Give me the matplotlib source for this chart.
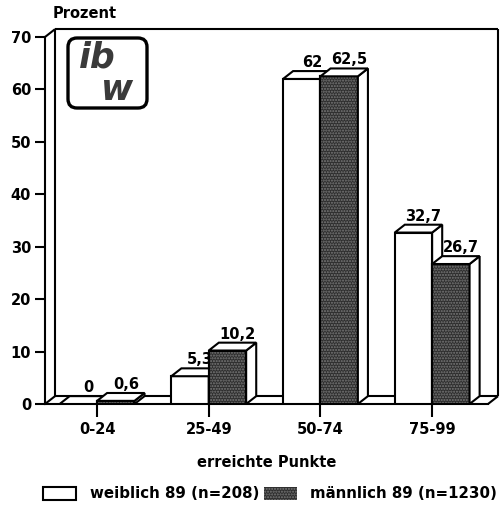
import matplotlib
matplotlib.use("Agg")
import matplotlib.pyplot as plt
from matplotlib.patches import Polygon, FancyBboxPatch, Patch

categories = ["0-24", "25-49", "50-74", "75-99"]
weiblich = [0, 5.3, 62, 32.7]
maennlich = [0.6, 10.2, 62.5, 26.7]
lab_w = ["0", "5,3", "62", "32,7"]
lab_m = ["0,6", "10,2", "62,5", "26,7"]
yticks = [0, 10, 20, 30, 40, 50, 60, 70]
series_names = ["weiblich 89 (n=208)", "männlich 89 (n=1230)"]

plt.rcParams['font.family'] = ['DejaVu Sans']
plt.rcParams['font.weight'] = 'bold'
plt.rcParams['axes.labelweight'] = 'bold'
FS = 10.5

W, H = 502, 521
fig = plt.figure(figsize=(W / 100, H / 100), dpi=100)
left_px, right_px, top_px, bot_px = 45, 488, 37, 404
ax = fig.add_axes([left_px / W, (H - bot_px) / H, (right_px - left_px) / W, (bot_px - top_px) / H])
x0, x1 = -0.466, 3.5
ax.set_xlim(x0, x1)
ax.set_ylim(0, 70)

dx, dy = 0.09, 1.5
bw = 0.335
DARK = '#2e2e2e'
LW = 1.5

for s in ['top', 'right']:
    ax.spines[s].set_visible(False)
for s in ['left', 'bottom']:
    ax.spines[s].set_linewidth(LW)
    ax.spines[s].set_zorder(1)

# back wall / floor lines
kw = dict(color='black', lw=LW, clip_on=False, zorder=1, solid_capstyle='butt')
ax.plot([x0, x0 + dx], [70, 70 + dy], **kw)
ax.plot([x0 + dx, x1 + dx], [70 + dy, 70 + dy], **kw)
ax.plot([x0 + dx, x0 + dx], [dy, 70 + dy], **kw)
ax.plot([x1 + dx, x1 + dx], [dy, 70 + dy], **kw)
ax.plot([x0, x0 + dx], [0, dy], **kw)
ax.plot([x0 + dx, x1 + dx], [dy, dy], **kw)
ax.plot([x1, x1 + dx], [0, dy], **kw)

xs = list(range(len(categories)))


def bar3d(xl, h, front, z, hatch=None):
    ax.bar([xl], [h], width=bw, align='edge', color=front, edgecolor='black',
           linewidth=LW, zorder=z)
    if hatch:
        ax.bar([xl], [h], width=bw, align='edge', color='none', edgecolor='#7a7a7a',
               linewidth=0, hatch=hatch, zorder=z)
        ax.bar([xl], [h], width=bw, align='edge', color='none', edgecolor='black',
               linewidth=LW, zorder=z)
    xr = xl + bw
    top = Polygon([(xl, h), (xr, h), (xr + dx, h + dy), (xl + dx, h + dy)],
                  closed=True, facecolor='white', edgecolor='black', lw=LW, zorder=z,
                  joinstyle='miter')
    side = Polygon([(xr, 0), (xr + dx, dy), (xr + dx, h + dy), (xr, h)],
                   closed=True, facecolor='white', edgecolor='black', lw=LW, zorder=z,
                   joinstyle='miter')
    ax.add_patch(side)
    ax.add_patch(top)


for i, x in enumerate(xs):
    bar3d(x - bw, weiblich[i], 'white', 2)
    ax.text(x - bw / 2 + dx, weiblich[i] + dy + 0.2, lab_w[i], ha='center', va='bottom',
            fontsize=FS, zorder=2.5)
    bar3d(x, maennlich[i], DARK, 3, hatch='......')
    ax.text(x + bw / 2 + dx, maennlich[i] + dy + 0.2, lab_m[i], ha='center', va='bottom',
            fontsize=FS, zorder=4)

ax.set_xticks(xs)
ax.set_xticklabels(categories, fontsize=FS)
ax.set_yticks(yticks)
ax.set_yticklabels([str(t) for t in yticks], fontsize=FS)
ax.tick_params(axis='both', direction='out', length=7, width=LW, pad=3)
ax.tick_params(axis='x', length=9, pad=4)
ax.set_xlabel("erreichte Punkte", fontsize=FS, fontweight='bold', labelpad=13)

fig.text(53 / W, 1 - 14 / H, "Prozent", ha='left', va='center', fontsize=FS)

# logo
box = FancyBboxPatch((68 / W, 1 - 108 / H), 79 / W, 70 / H,
                     boxstyle="round,pad=0,rounding_size=0.018", mutation_aspect=W / H,
                     transform=fig.transFigure, facecolor='white', edgecolor='black', lw=2.4)
fig.add_artist(box)
fig.text(97 / W, 1 - 58 / H, "ib", ha='center', va='center', fontsize=25, style='italic',
         weight='bold', color='#3a3a3a')
fig.text(117 / W, 1 - 90 / H, "w", ha='center', va='center', fontsize=25, style='italic',
         weight='bold', color='#3a3a3a')

handles = [Patch(facecolor='white', edgecolor='black', lw=LW),
           Patch(facecolor=DARK, edgecolor='#7a7a7a', hatch='......', lw=0)]
fig.legend(handles, series_names, loc='center', bbox_to_anchor=(0.538, 1 - 494 / H), ncol=2,
           frameon=False, fontsize=10.8, handlelength=2.2, handleheight=0.9,
           columnspacing=0.3, handletextpad=0.9)

fig.savefig("out.png", dpi=100)
